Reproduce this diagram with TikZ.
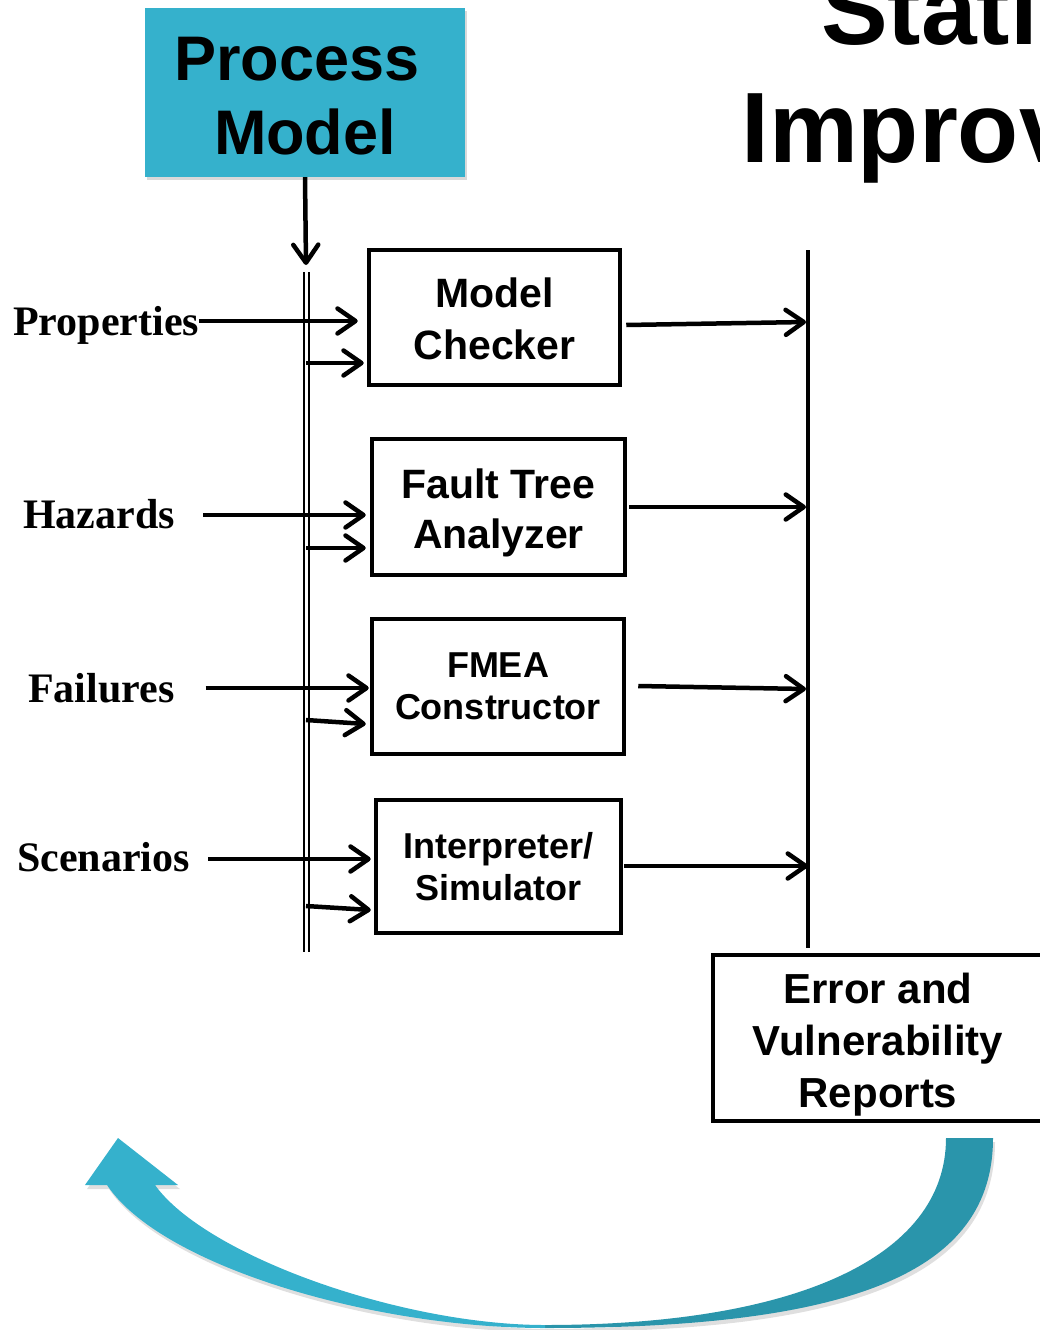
\documentclass[tikz,border=0pt]{standalone}
\usepackage{fontspec}
\setmainfont{Liberation Serif}
\setsansfont{Liberation Sans}
\usetikzlibrary{arrows.meta,shadows}

\definecolor{tealLight}{HTML}{35B1CC}
\definecolor{tealDark}{HTML}{2A95AB}

% invisible strut that lowers a centred block of lines
\newcommand{\lowerby}[1]{\rule{0pt}{#1}}

\tikzset{
  headline/.style={font=\sffamily\bfseries\fontsize{100}{117}\selectfont, inner sep=0pt, anchor=base west},
  modelbox/.style={fill=tealLight, minimum width=320pt, minimum height=169pt, inner sep=0pt,
    align=center, font=\sffamily\bfseries\fontsize{63}{74}\selectfont,
    drop shadow={opacity=0.3, shadow xshift=2pt, shadow yshift=-3pt}},
  toolbox/.style={draw, line width=4.5pt, inner sep=0pt, align=center, font=\sffamily\bfseries},
  inputlabel/.style={font=\bfseries\fontsize{42}{50}\selectfont, inner sep=0pt, anchor=base west},
  feed/.style={line width=4.5pt, -{Straight Barb[length=18pt, width=25pt, round]}},
  bus/.style={line width=4.5pt},
  doublebus/.style={double, double distance=3pt, line width=2pt},
  loopback/.style={drop shadow={opacity=0.25, shadow xshift=2pt, shadow yshift=-4pt}}
}

\begin{document}
\begin{tikzpicture}[x=1pt, y=-1pt]
\useasboundingbox (0,0) rectangle (1040,1330);
\clip (0,0) rectangle (1040,1330);

% heading, running off the right edge
\node[headline] (headA) at (821,45) {Static};
\node[headline] (headB) at (741,162) {Improv};

% loop-back arrow: dark right half, light left half with the head
\fill[tealDark, loopback] (993,1138) .. controls (993,1272) and (854,1328) .. (545,1328)
  -- (545,1325) .. controls (794,1325) and (946,1258) .. (946,1138) -- cycle;
\fill[tealLight, loopback] (545,1328) .. controls (370,1328) and (160,1265) .. (107,1185)
  -- (85,1185) -- (118,1138) -- (178,1185) -- (155,1185)
  .. controls (205,1255) and (400,1325) .. (545,1325) -- cycle;

% process model
\node[modelbox] (pm) at (305,92.5) {\lowerby{50pt}Process\hspace*{16pt}\\Model};

% buses
\coordinate (busTop) at (306,272);
\coordinate (busBot) at (306,952);
\coordinate (rbTop) at (808,250);
\coordinate (rbBot) at (808,948);
\draw[doublebus] (busTop) -- (busBot);
\draw[bus] (rbTop) -- (rbBot);
\draw[feed] (pm.south) -- ([shift={(0,-7)}]busTop);

% analysis tools
\node[toolbox, minimum width=251pt, minimum height=135pt, font=\sffamily\bfseries\fontsize{41}{52}\selectfont]
  (mc) at (494.5,317.5) {\lowerby{33pt}Model\\Checker};
\node[toolbox, minimum width=253pt, minimum height=136pt, font=\sffamily\bfseries\fontsize{41}{50}\selectfont]
  (fta) at (498.5,507) {\lowerby{41pt}Fault Tree\\Analyzer};
\node[toolbox, minimum width=252pt, minimum height=135pt, font=\sffamily\bfseries\fontsize{36}{42}\selectfont]
  (fmea) at (498,686.5) {FMEA\\Constructor};
\node[toolbox, minimum width=245pt, minimum height=133pt, font=\sffamily\bfseries\fontsize{36}{42}\selectfont]
  (sim) at (498.5,866.5) {Interpreter/\\Simulator};

% reports
\node[toolbox, minimum width=330pt, minimum height=166pt, font=\sffamily\bfseries\fontsize{42}{52}\selectfont]
  (err) at (878,1038) {\lowerby{44pt}Error and\\Vulnerability\\Reports};

% inputs
\node[inputlabel] (props) at (13,335) {Properties};
\node[inputlabel] (haz) at (23,528) {Hazards};
\node[inputlabel] (fail) at (28,702) {Failures};
\node[inputlabel] (scen) at (17,871) {Scenarios};

\draw[feed] ([shift={(0,-14)}]props.base east) -- ([shift={(-9,3.5)}]mc.west);
\draw[feed] ([shift={(28,-13)}]haz.base east) -- ([shift={(-4,8)}]fta.west);
\draw[feed] ([shift={(31,-14)}]fail.base east) -- ([shift={(-1,1.5)}]fmea.west);
\draw[feed] ([shift={(18,-12)}]scen.base east) -- ([shift={(-3,-7.5)}]sim.west);

% model feeds from the bus
\draw[feed] ([shift={(0,91)}]busTop) -- ([shift={(-3,45.5)}]mc.west);
\draw[feed] ([shift={(0,276)}]busTop) -- ([shift={(-4,41)}]fta.west);
\draw[feed] ([shift={(0,448)}]busTop) -- ([shift={(-4,37.5)}]fmea.west);
\draw[feed] ([shift={(0,634)}]busTop) -- ([shift={(-3,43.5)}]sim.west);

% results to the report bus
\draw[feed] ([shift={(4,7.5)}]mc.east) -- ([shift={(-2,72)}]rbTop);
\draw[feed] ([shift={(2,0)}]fta.east) -- ([shift={(-2,257)}]rbTop);
\draw[feed] ([shift={(12,-0.5)}]fmea.east) -- ([shift={(-2,439)}]rbTop);
\draw[feed] ([shift={(1,-0.5)}]sim.east) -- ([shift={(0,616)}]rbTop);
\end{tikzpicture}
\end{document}
